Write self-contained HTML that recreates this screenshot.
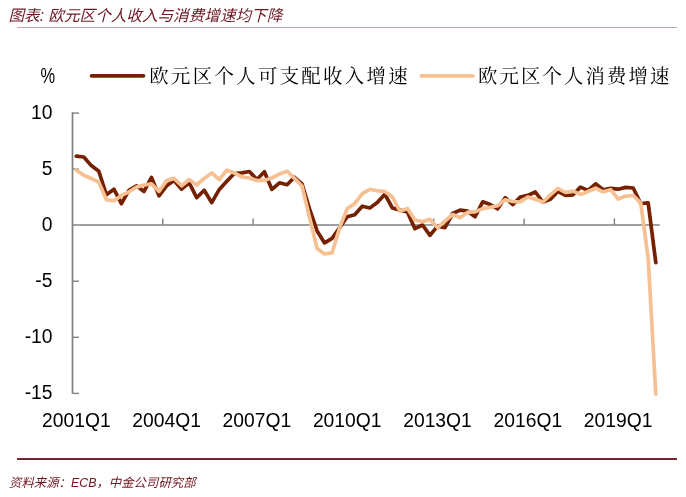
<!DOCTYPE html>
<html lang="zh"><head><meta charset="utf-8"><title>图表</title>
<style>
html,body{margin:0;padding:0;background:#fff;}
body{width:686px;height:497px;position:relative;overflow:hidden;font-family:"Liberation Sans","Noto Sans CJK SC",sans-serif;}
.title{position:absolute;left:8.5px;top:5.5px;font-size:15.6px;line-height:20px;font-style:italic;color:#6e1622;letter-spacing:0px;white-space:nowrap;}
.rule1{position:absolute;left:17px;top:27px;width:660px;height:1px;background:#bca8a9;}
.rule2{position:absolute;left:17px;top:457.7px;width:660px;height:1.9px;background:#722530;}
.src{position:absolute;left:9px;top:473.5px;font-size:12.4px;line-height:18px;font-style:italic;color:#6e1622;white-space:nowrap;}
svg{position:absolute;left:0;top:0;}
.ax text{font-family:"Liberation Sans",sans-serif;font-size:19.3px;fill:#000;}
.lg text{font-family:"Liberation Serif","Noto Serif CJK SC",serif;font-size:19.4px;letter-spacing:2.1px;fill:#000;}
</style></head><body>
<div class="title">图表: 欧元区个人收入与消费增速均下降</div>
<div class="rule1"></div>
<svg width="686" height="497" viewBox="0 0 686 497">
<g stroke="#808080" stroke-width="1.7" fill="none">
<line x1="72.5" y1="112.3" x2="72.5" y2="393.7"/>
<line x1="71.8" y1="225" x2="659.8" y2="225"/>
<line x1="72.5" y1="113.1" x2="79" y2="113.1" stroke-width="1.4"/><line x1="72.5" y1="169.1" x2="79" y2="169.1" stroke-width="1.4"/><line x1="72.5" y1="281.2" x2="79" y2="281.2" stroke-width="1.4"/><line x1="72.5" y1="337.3" x2="79" y2="337.3" stroke-width="1.4"/><line x1="72.5" y1="393.4" x2="79" y2="393.4" stroke-width="1.4"/><line x1="162.8" y1="218.4" x2="162.8" y2="225" stroke-width="1.4"/><line x1="253.1" y1="218.4" x2="253.1" y2="225" stroke-width="1.4"/><line x1="343.4" y1="218.4" x2="343.4" y2="225" stroke-width="1.4"/><line x1="433.7" y1="218.4" x2="433.7" y2="225" stroke-width="1.4"/><line x1="524.1" y1="218.4" x2="524.1" y2="225" stroke-width="1.4"/><line x1="614.4" y1="218.4" x2="614.4" y2="225" stroke-width="1.4"/>
</g>
<polyline points="76.3,156.1 83.8,157.0 91.3,165.6 98.8,171.2 106.4,194.8 113.9,189.2 121.4,203.7 128.9,190.3 136.5,185.8 144.0,191.4 151.5,177.4 159.0,195.9 166.6,185.8 174.1,180.6 181.6,189.2 189.2,182.8 196.7,197.7 204.2,190.3 211.7,202.6 219.3,189.4 226.8,181.3 234.3,173.5 241.8,172.9 249.4,171.5 256.9,179.5 264.4,171.8 271.9,189.4 279.5,182.8 287.0,184.7 294.5,177.3 302.0,183.9 309.6,209.0 317.1,230.9 324.6,242.9 332.1,238.4 339.7,227.6 347.2,216.7 354.7,214.7 362.3,206.2 369.8,208.0 377.3,202.6 384.8,194.2 392.4,208.0 399.9,210.1 407.4,211.9 414.9,228.7 422.5,225.0 430.0,235.3 437.5,226.1 445.0,227.6 452.6,213.5 460.1,210.1 467.6,211.2 475.1,216.7 482.7,201.8 490.2,204.6 497.7,208.8 505.2,197.7 512.8,204.6 520.3,197.0 527.8,195.4 535.3,192.0 542.9,202.0 550.4,199.2 557.9,191.4 565.5,195.4 573.0,194.8 580.5,187.1 588.0,190.4 595.6,183.8 603.1,189.7 610.6,188.3 618.1,189.2 625.7,187.4 633.2,188.0 640.7,203.5 648.2,202.9 655.8,262.6" fill="none" stroke="#752100" stroke-width="3.7" stroke-linejoin="round" stroke-linecap="round"/>
<polyline points="76.3,170.1 83.8,175.2 91.3,178.5 98.8,182.2 106.4,199.8 113.9,200.7 121.4,195.4 128.9,192.0 136.5,187.1 144.0,185.0 151.5,183.9 159.0,191.4 166.6,180.6 174.1,178.4 181.6,185.8 189.2,179.5 196.7,185.0 204.2,178.4 211.7,172.9 219.3,179.5 226.8,170.1 234.3,172.9 241.8,176.8 249.4,178.0 256.9,180.6 264.4,180.2 271.9,178.0 279.5,174.0 287.0,171.2 294.5,178.4 302.0,186.0 309.6,217.8 317.1,248.5 324.6,253.9 332.1,252.8 339.7,227.6 347.2,208.6 354.7,203.7 362.3,193.6 369.8,189.4 377.3,190.8 384.8,191.4 392.4,197.0 399.9,211.2 407.4,208.6 414.9,220.0 422.5,221.6 430.0,219.4 437.5,227.6 445.0,221.1 452.6,214.5 460.1,217.8 467.6,212.3 475.1,211.7 482.7,208.6 490.2,207.3 497.7,205.7 505.2,199.8 512.8,201.5 520.3,202.0 527.8,197.0 535.3,199.2 542.9,202.0 550.4,194.8 557.9,188.3 565.5,192.5 573.0,191.1 580.5,194.4 588.0,191.5 595.6,188.2 603.1,191.8 610.6,189.7 618.1,199.0 625.7,196.1 633.2,195.5 640.7,202.8 648.2,258.6 655.8,394.1" fill="none" stroke="#f7c092" stroke-width="3.7" stroke-linejoin="round" stroke-linecap="round"/>
<g class="ax"><text x="52.5" y="119.4" text-anchor="end">10</text><text x="52.5" y="175.4" text-anchor="end">5</text><text x="52.5" y="231.4" text-anchor="end">0</text><text x="52.5" y="287.4" text-anchor="end">-5</text><text x="52.5" y="343.4" text-anchor="end">-10</text><text x="52.5" y="399.4" text-anchor="end">-15</text><text x="76.3" y="426.8" text-anchor="middle">2001Q1</text><text x="166.6" y="426.8" text-anchor="middle">2004Q1</text><text x="256.9" y="426.8" text-anchor="middle">2007Q1</text><text x="347.2" y="426.8" text-anchor="middle">2010Q1</text><text x="437.5" y="426.8" text-anchor="middle">2013Q1</text><text x="527.8" y="426.8" text-anchor="middle">2016Q1</text><text x="618.1" y="426.8" text-anchor="middle">2019Q1</text><text x="40.6" y="83.2" style="font-size:21.5px" textLength="14.6" lengthAdjust="spacingAndGlyphs">%</text></g>
<g class="lg">
<line x1="91.5" y1="75.8" x2="143.5" y2="75.8" stroke="#752100" stroke-width="3.7" stroke-linecap="round"/>
<text x="149.2" y="83" style="letter-spacing:2.35px">欧元区个人可支配收入增速</text>
<line x1="421.5" y1="75.8" x2="473" y2="75.8" stroke="#f7c092" stroke-width="3.7" stroke-linecap="round"/>
<text x="478" y="83">欧元区个人消费增速</text>
</g>
</svg>
<div class="rule2"></div>
<div class="src">资料来源：ECB，中金公司研究部</div>
</body></html>
